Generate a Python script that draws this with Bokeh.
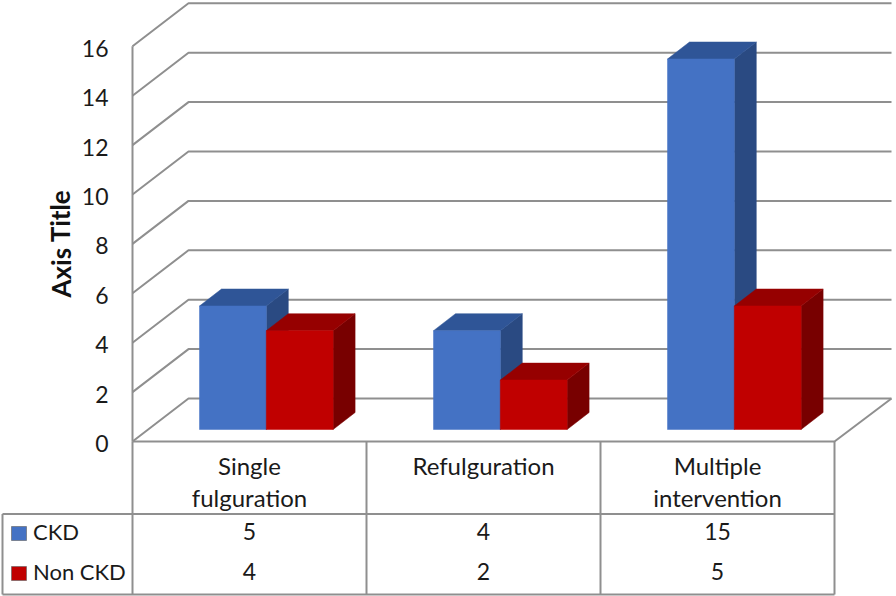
from bokeh.plotting import figure
from bokeh.models import Range1d, FixedTicker
from bokeh.embed import file_html
from bokeh.resources import INLINE
from bokeh.core.properties import value

categories = ["Single\nfulguration", "Refulguration", "Multiple\nintervention"]
series_names = ["CKD", "Non CKD"]
ckd = [5, 4, 15]
non_ckd = [4, 2, 5]
y_ticks = [0, 2, 4, 6, 8, 10, 12, 14, 16]

FONT = "Lato"
W, H = 896, 596
PX_X, PX_Y = 234.0, 24.7     # pixels per category, per value unit
X0, Y0 = 132.0, 441.0        # where the front corner of the axis sits


def dx(px):
    return px / PX_X


def dy(px):
    return px / PX_Y


def fx(px):
    return (px - X0) / PX_X


def fy(px):
    return (Y0 - px) / PX_Y


p = figure(width=W, height=H, output_backend="svg", toolbar_location=None,
           x_range=Range1d(fx(0), fx(W)), y_range=Range1d(fy(H), fy(0)),
           min_border=0, margin=(0, 0, 0, 0), tools="")
p.outline_line_color = None
p.background_fill_color = "white"
p.grid.visible = False
p.xaxis.visible = False

GRID = "#8F8F8F"
GW = 2

# value axis: labels sit a little below their gridlines, as in the reference
p.extra_y_ranges = {"labels": Range1d(fy(H) + dy(2), fy(0) + dy(2))}
ax = p.yaxis[0]
ax.y_range_name = "labels"
ax.fixed_location = 0
ax.ticker = FixedTicker(ticks=y_ticks)
ax.major_tick_line_color = None
ax.minor_tick_line_color = None
ax.major_tick_out = 0
ax.major_label_standoff = 24
ax.major_label_text_font = FONT
ax.major_label_text_font_size = "23px"
ax.major_label_text_color = "#1a1a1a"
ax.axis_line_color = None
ax.axis_label = None
p.line([0, 0], [y_ticks[0], y_ticks[-1]], line_color=GRID, line_width=GW)

# walls and floor
wall_dx, wall_dy = dx(56), dy(43)
right_front = fx(834)
right_back = fx(891)
for t in y_ticks:
    p.line([0, wall_dx, right_back], [t, t + wall_dy, t + wall_dy],
           line_color=GRID, line_width=GW)
p.line([right_back, right_front, 0], [wall_dy, 0, 0], line_color=GRID, line_width=GW)

# columns
bar_w = dx(66.8)
first = fx(199)
base = dy(12)
depth_x, depth_y = dx(22), dy(17)
colours = [("#4472C4", "#2F5597", "#2A4A82"), ("#C00000", "#960000", "#780000")]
for i in range(3):
    for s, vals in enumerate([ckd, non_ckd]):
        front, top, side = colours[s]
        l = first + i + s * bar_w
        r = l + bar_w
        b = base
        t = base + vals[i]
        p.patch([r, r + depth_x, r + depth_x, r], [b, b + depth_y, t + depth_y, t],
                fill_color=side, line_color=side, line_width=0.5)
        p.patch([l, l + depth_x, r + depth_x, r], [t, t + depth_y, t + depth_y, t],
                fill_color=top, line_color=top, line_width=0.5)
        p.quad(left=[l], right=[r], bottom=[b], top=[t],
               fill_color=front, line_color=front, line_width=0.5)

# data table
col_edges = [0, 1, 2, 3]
table_left = fx(2)
row_top = fy(513.5)
row_bottom = fy(594)
for i, e in enumerate(col_edges):
    xe = fx(132 + 234 * e)
    p.line([xe, xe], [0, row_bottom], line_color=GRID, line_width=GW)
p.line([table_left, fx(834)], [row_top, row_top], line_color=GRID, line_width=GW)
p.line([table_left, fx(834)], [row_bottom, row_bottom], line_color=GRID, line_width=GW)
p.line([table_left, table_left], [row_top, row_bottom], line_color=GRID, line_width=GW)

TXT = "#1a1a1a"
centres = [fx(249), fx(483), fx(717)]
lines_y = [fy(464.5), fy(496.5)]
xs, ys, ts = [], [], []
for c, name in zip(centres, categories):
    for ln, yy in zip(name.split("\n"), lines_y):
        xs.append(c); ys.append(yy); ts.append(ln)
p.text(x=xs, y=ys, text=ts, text_font=value(FONT), text_font_size="24px",
       text_align="center", text_baseline="middle", text_color=TXT)
xs, ys, ts = [], [], []
for row_y, vals in zip([fy(531), fy(571)], [ckd, non_ckd]):
    for c, v in zip(centres, vals):
        xs.append(c); ys.append(row_y); ts.append(str(v))
p.text(x=xs, y=ys, text=ts, text_font=value(FONT), text_font_size="23px",
       text_align="center", text_baseline="middle", text_color=TXT)

# legend keys
for name, row_y, (front, _, _) in zip(series_names, [533, 573], colours):
    p.quad(left=[fx(11)], right=[fx(26)], bottom=[fy(row_y + 7)], top=[fy(row_y - 7)],
           fill_color=front, line_color="#5f5f5f", line_width=0.6)
    p.text(x=[fx(32.5)], y=[fy(row_y - 2)], text=[name], text_font=value(FONT), text_font_size="22px",
           text_align="left", text_baseline="middle", text_color=TXT)

p.text(x=[fx(60)], y=[fy(243)], text=["Axis Title"], angle=1.5708, text_font=value(FONT),
       text_font_style="bold", text_font_size="26px", text_align="center",
       text_baseline="middle", text_color="#111111")

open("out.html", "w").write(file_html(p, INLINE))
